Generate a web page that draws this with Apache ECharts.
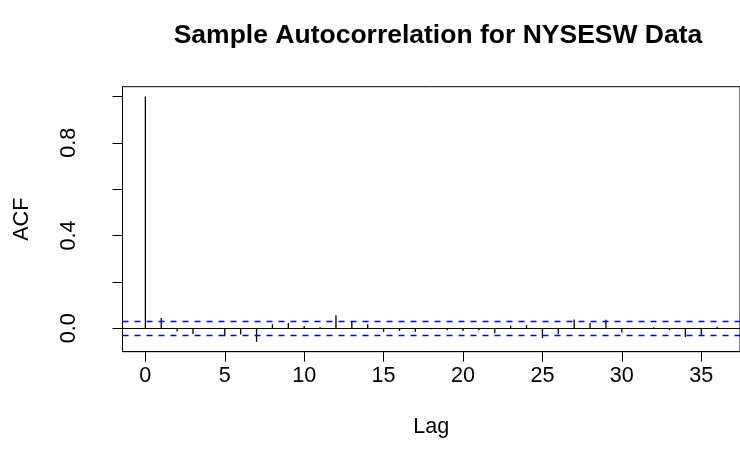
<!DOCTYPE html>
<html>
<head>
<meta charset="utf-8">
<script src="https://cdn.jsdelivr.net/npm/echarts@6/dist/echarts.min.js"></script>
<style>
html,body{margin:0;padding:0;background:#fff;}
#chart{width:740px;height:466px;}
</style>
</head>
<body>
<div id="chart"></div>
<script>
const titleText = 'Sample Autocorrelation for NYSESW Data';
const xLabel = 'Lag';
const yLabel = 'ACF';
const lags = [0,1,2,3,4,5,6,7,8,9,10,11,12,13,14,15,16,17,18,19,20,21,22,23,24,25,26,27,28,29,30,31,32,33,34,35,36];
const acfValues = [1,0.0445,-0.014,-0.025,-0.002,-0.035,-0.027,-0.059,0.017,0.023,0.009,0.004,0.056,0.027,0.017,-0.016,-0.012,-0.016,-0.004,-0.009,-0.012,-0.009,-0.022,0.012,0.013,-0.043,-0.025,0.038,0.022,0.036,-0.018,-0.002,0.004,-0.008,-0.038,-0.028,0.006];
const confLimit = 0.031;
const xTicks = [0,5,10,15,20,25,30,35];
const yTicks = [0,0.2,0.4,0.6,0.8,1.0];
const yTickLabels = [0,0.4,0.8];

const FONT = 'Liberation Sans, Arial, Helvetica, sans-serif';
const chart = echarts.init(document.getElementById('chart'), null, {renderer:'canvas'});
function ciSeries(val){
  return {
    type:'line', data:[], silent:true,
    markLine:{
      silent:true, symbol:'none', label:{show:false},
      lineStyle:{color:'#0000ff',type:[6,6],width:1.3},
      emphasis:{disabled:true},
      data:[{yAxis:val}]
    }
  };
}
chart.setOption({
  animation:false,
  backgroundColor:'#fff',
  title:{
    text:titleText, left:433, top:17, textAlign:'center',
    textStyle:{fontFamily:FONT,fontSize:26.5,fontWeight:'bold',color:'#000'}
  },
  grid:{left:122.5, top:86.7, width:622, height:265, show:true, borderColor:'#000', borderWidth:1, backgroundColor:'transparent'},
  xAxis:{
    type:'value', min:-1.44, max:37.44,
    name:xLabel, nameLocation:'middle', nameGap:64,
    nameTextStyle:{fontFamily:FONT,fontSize:21.6,color:'#000'},
    axisLine:{show:true,onZero:false,lineStyle:{color:'#000',width:1}},
    axisTick:{show:true,length:10,customValues:xTicks,lineStyle:{color:'#000',width:1}},
    axisLabel:{show:true,margin:13,customValues:xTicks,fontFamily:FONT,fontSize:21.6,color:'#000'},
    splitLine:{show:false}
  },
  yAxis:{
    type:'value', min:-0.1014, max:1.0424,
    name:yLabel, nameLocation:'middle', nameGap:89,
    nameTextStyle:{fontFamily:FONT,fontSize:21.6,color:'#000'},
    axisLine:{show:true,onZero:false,lineStyle:{color:'#000',width:1}},
    axisTick:{show:true,length:10,customValues:yTicks,lineStyle:{color:'#000',width:1}},
    axisLabel:{show:true,margin:42,rotate:90,customValues:yTickLabels,fontFamily:FONT,fontSize:21.6,color:'#000',
      formatter:function(v){return Number(v).toFixed(1);}},
    splitLine:{show:false}
  },
  series:[{
    type:'bar',
    data:lags.map(function(l,i){return [l,acfValues[i]];}),
    barWidth:1.3,
    itemStyle:{color:'#000'},
    silent:true,
    markLine:{
      silent:true, symbol:'none', label:{show:false},
      lineStyle:{color:'#000',type:'solid',width:1},
      data:[{yAxis:0}]
    }
  }, ciSeries(confLimit), ciSeries(-confLimit)]
});
</script>
</body>
</html>
